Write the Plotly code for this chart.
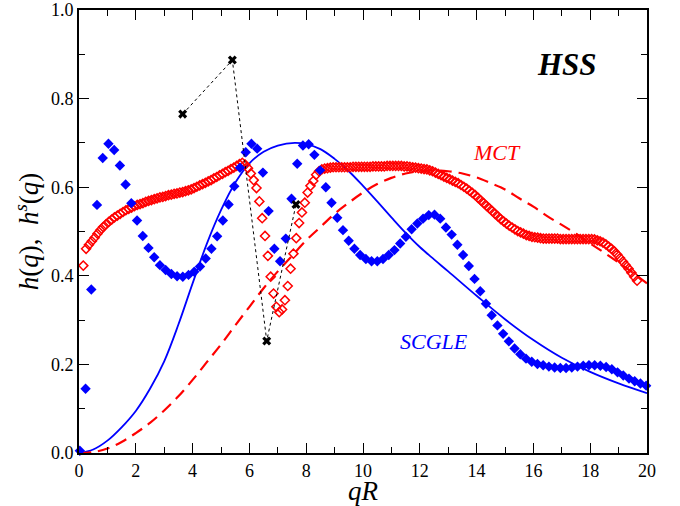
import subprocess
import numpy as np
import plotly.graph_objects as go

# Build the fontconfig cache up front so the serif faces resolve when the page renders.
try:
    subprocess.run(["fc-list", ":", "family"], capture_output=True, text=True, timeout=60)
except Exception:
    pass

# ---- SCGLE simulation points (filled diamonds) ----
scgle_q = np.linspace(0.03, 19.97, 100)
scgle_h = [
    0.005, 0.145, 0.369, 0.560, 0.666, 0.698, 0.684, 0.649, 0.606, 0.564,
    0.525, 0.490, 0.463, 0.442, 0.424, 0.413, 0.404, 0.399, 0.398, 0.402,
    0.409, 0.421, 0.439, 0.461, 0.489, 0.525, 0.561, 0.602, 0.644, 0.679,
    0.698, 0.687, 0.633, 0.546, 0.461, 0.433, 0.484, 0.574, 0.653, 0.694,
    0.697, 0.673, 0.638, 0.600, 0.565, 0.531, 0.503, 0.479, 0.461, 0.447,
    0.438, 0.433, 0.433, 0.438, 0.447, 0.458, 0.473, 0.488, 0.505, 0.518,
    0.529, 0.537, 0.538, 0.529, 0.509, 0.493, 0.470, 0.447, 0.422, 0.393,
    0.365, 0.337, 0.311, 0.288, 0.269, 0.252, 0.236, 0.223, 0.213, 0.206,
    0.201, 0.198, 0.195, 0.193, 0.192, 0.192, 0.193, 0.195, 0.197, 0.198,
    0.198, 0.197, 0.194, 0.189, 0.182, 0.175, 0.168, 0.162, 0.157, 0.152,
]

# ---- MCT points (open diamonds) ----
mct_q = np.round(np.arange(0.15, 20.0, 0.1), 2)
mct_h = [
    0.423, 0.461, 0.470, 0.478, 0.486, 0.495, 0.503, 0.510, 0.516, 0.522,
    0.527, 0.532, 0.536, 0.540, 0.544, 0.548, 0.551, 0.554, 0.557, 0.560,
    0.562, 0.564, 0.567, 0.569, 0.571, 0.573, 0.575, 0.577, 0.578, 0.580,
    0.582, 0.583, 0.585, 0.586, 0.588, 0.589, 0.591, 0.593, 0.595, 0.598,
    0.601, 0.604, 0.607, 0.610, 0.613, 0.616, 0.620, 0.623, 0.627, 0.630,
    0.634, 0.637, 0.641, 0.644, 0.648, 0.652, 0.655, 0.651, 0.643, 0.631,
    0.616, 0.598, 0.568, 0.530, 0.490, 0.445, 0.398, 0.360, 0.330, 0.318,
    0.324, 0.345, 0.377, 0.416, 0.450, 0.485, 0.519, 0.543, 0.565, 0.588,
    0.603, 0.614, 0.628, 0.636, 0.640, 0.642, 0.643, 0.644, 0.645, 0.645,
    0.645, 0.645, 0.645, 0.645, 0.645, 0.646, 0.646, 0.646, 0.646, 0.646,
    0.646, 0.646, 0.647, 0.647, 0.647, 0.647, 0.647, 0.648, 0.648, 0.648,
    0.648, 0.648, 0.648, 0.647, 0.647, 0.646, 0.645, 0.644, 0.643, 0.642,
    0.641, 0.640, 0.638, 0.636, 0.633, 0.630, 0.627, 0.624, 0.621, 0.618,
    0.615, 0.612, 0.609, 0.605, 0.601, 0.597, 0.592, 0.587, 0.582, 0.576,
    0.570, 0.564, 0.558, 0.552, 0.546, 0.540, 0.534, 0.528, 0.523, 0.518,
    0.513, 0.509, 0.505, 0.501, 0.498, 0.495, 0.492, 0.490, 0.488, 0.487,
    0.486, 0.485, 0.484, 0.484, 0.484, 0.484, 0.484, 0.484, 0.483, 0.483,
    0.483, 0.483, 0.483, 0.483, 0.483, 0.483, 0.483, 0.483, 0.483, 0.483,
    0.482, 0.480, 0.478, 0.475, 0.471, 0.466, 0.461, 0.455, 0.448, 0.440,
    0.432, 0.424, 0.416, 0.407, 0.398, 0.389,
]

# ---- SCGLE theory (solid blue) ----
scgle_line_q = [0, 0.5, 1, 1.5, 2, 2.5, 3, 3.5, 4, 4.5, 5, 5.5, 6, 6.5, 7,
                7.6, 8, 8.5, 9, 9.5, 10, 10.5, 11, 11.5, 12, 12.5, 13, 14,
                15, 16, 17, 18, 19, 20]
scgle_line_h = [0.0, 0.008, 0.028, 0.058, 0.095, 0.145, 0.207, 0.290, 0.383,
                0.472, 0.548, 0.610, 0.654, 0.680, 0.694, 0.700, 0.697, 0.686,
                0.664, 0.636, 0.603, 0.568, 0.532, 0.497, 0.465, 0.437, 0.410,
                0.355, 0.302, 0.255, 0.215, 0.183, 0.157, 0.135]

# ---- MCT theory (dashed red) ----
mct_line_q = [0, 0.5, 1, 1.5, 2, 2.5, 3, 3.5, 4, 4.5, 5, 5.5, 6, 6.5, 7, 7.5,
              8, 8.5, 9, 9.5, 10, 10.5, 11, 11.5, 12, 12.5, 13, 13.5, 14, 14.5,
              15, 15.5, 16, 16.5, 17, 17.5, 18, 18.5, 19, 19.5, 20]
mct_line_h = [0.0, 0.002, 0.010, 0.025, 0.045, 0.068, 0.096, 0.128, 0.165,
              0.205, 0.245, 0.288, 0.330, 0.372, 0.410, 0.445, 0.480, 0.510,
              0.540, 0.565, 0.588, 0.607, 0.621, 0.631, 0.636, 0.638, 0.636,
              0.631, 0.622, 0.609, 0.595, 0.575, 0.556, 0.534, 0.515, 0.495,
              0.473, 0.452, 0.430, 0.407, 0.383]

# ---- h^s points (crosses, dotted) ----
hs_q = [3.65, 5.40, 6.61, 7.64]
hs_h = [0.765, 0.887, 0.253, 0.561]

serif = "Liberation Serif"

fig = go.Figure()
fig.add_trace(go.Scatter(x=scgle_line_q, y=scgle_line_h, mode="lines",
                         line=dict(color="#0000ff", width=1.8, shape="spline"),
                         hoverinfo="skip"))
fig.add_trace(go.Scatter(x=mct_line_q, y=mct_line_h, mode="lines",
                         line=dict(color="#ff0000", width=2.2, shape="spline",
                                   dash="12px,7px"),
                         hoverinfo="skip"))
fig.add_trace(go.Scatter(x=mct_q, y=mct_h, mode="markers",
                         marker=dict(symbol="diamond-open", size=7,
                                     color="#ff0000",
                                     line=dict(color="#ff0000", width=1.5)),
                         cliponaxis=False))
fig.add_trace(go.Scatter(x=scgle_q, y=scgle_h, mode="markers",
                         marker=dict(symbol="diamond", size=8, color="#0000ff",
                                     line=dict(width=0)),
                         cliponaxis=False))
fig.add_trace(go.Scatter(x=hs_q, y=hs_h, mode="lines+markers",
                         line=dict(color="black", width=1, dash="dot"),
                         marker=dict(symbol="x", size=8, color="black",
                                     line=dict(width=0))))

axis_common = dict(
    showline=True, linewidth=2, linecolor="black", mirror="allticks",
    ticks="inside", ticklen=10, tickwidth=1.2, tickcolor="black",
    showgrid=False, zeroline=False, automargin=False,
    tickfont=dict(family=serif, size=18, color="black"),
)

fig.update_xaxes(range=[0, 20], dtick=2, tick0=0,
                 minor=dict(ticks="inside", ticklen=6, dtick=1,
                            tickcolor="black", tickwidth=1.2),
                 title=dict(text="<i>qR</i>",
                            font=dict(family=serif, size=27, color="black"),
                            standoff=6),
                 **axis_common)
fig.update_yaxes(range=[0, 1.0], dtick=0.2, tick0=0, tickformat=".1f",
                 minor=dict(ticks="inside", ticklen=6, dtick=0.1,
                            tickcolor="black", tickwidth=1.2),
                 title=dict(text="<i>h</i>(<i>q</i>),  <i>h</i><sup><i>s</i></sup>(<i>q</i>)",
                            font=dict(family=serif, size=27, color="black"),
                            standoff=4),
                 **axis_common)

fig.add_annotation(x=17.18, y=0.877, text="<b><i>HSS</i></b>", showarrow=False,
                   font=dict(family=serif, size=31, color="black"))
fig.add_annotation(x=14.72, y=0.679, text="<i>MCT</i>", showarrow=False,
                   font=dict(family=serif, size=22, color="#ff0000"))
fig.add_annotation(x=12.5, y=0.251, text="<i>SCGLE</i>", showarrow=False,
                   font=dict(family=serif, size=22, color="#0000ff"))

fig.update_layout(
    width=680, height=506,
    margin=dict(l=79, r=33, t=10, b=53),
    plot_bgcolor="white", paper_bgcolor="white",
    showlegend=False,
)

fig.write_html("out.html")
